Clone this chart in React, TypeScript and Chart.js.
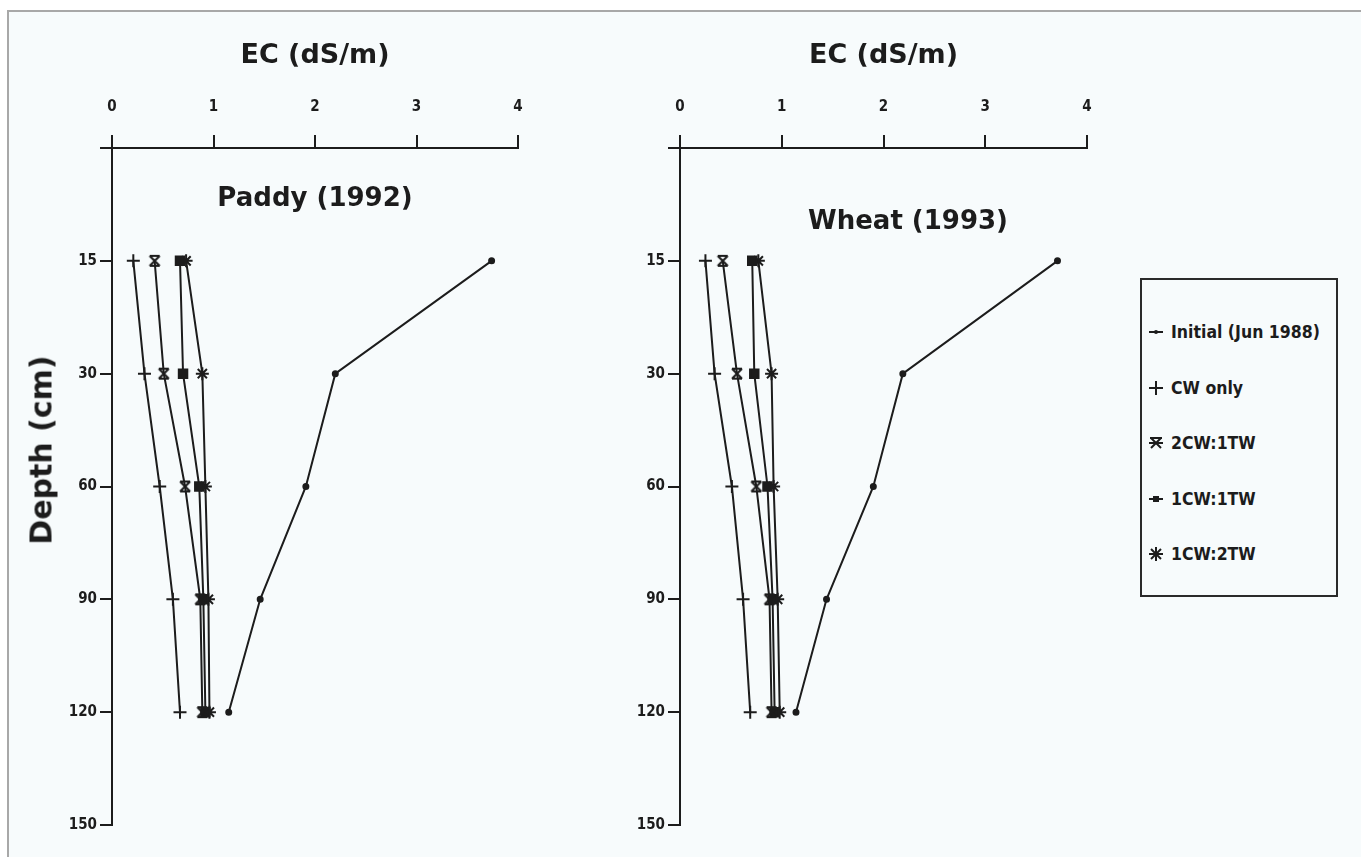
import React, { useEffect, useRef } from 'react';
import { Chart, registerables } from 'chart.js';

Chart.register(...registerables);

// ---------- data ----------
const depthTicks = ['', '15', '30', '60', '90', '120', '150'];
const depths = ['15', '30', '60', '90', '120'];
const ecTicks = [0, 1, 2, 3, 4];
const seriesNames = ['Initial (Jun 1988)', 'CW only', '2CW:1TW', '1CW:1TW', '1CW:2TW'];

const paddyInitial = [3.74, 2.2, 1.91, 1.46, 1.15];
const paddyCwOnly = [0.21, 0.32, 0.47, 0.6, 0.67];
const paddy2cw1tw = [0.42, 0.51, 0.72, 0.87, 0.89];
const paddy1cw1tw = [0.67, 0.7, 0.86, 0.9, 0.92];
const paddy1cw2tw = [0.73, 0.89, 0.92, 0.95, 0.96];

const wheatInitial = [3.71, 2.19, 1.9, 1.44, 1.14];
const wheatCwOnly = [0.25, 0.34, 0.51, 0.62, 0.69];
const wheat2cw1tw = [0.42, 0.56, 0.75, 0.88, 0.9];
const wheat1cw1tw = [0.71, 0.73, 0.86, 0.91, 0.93];
const wheat1cw2tw = [0.77, 0.9, 0.92, 0.96, 0.98];

const INK = '#1c1c1c';
const NARROW = "'Liberation Sans Narrow', 'DejaVu Sans Condensed', 'Arial Narrow', sans-serif";
const WIDE = "'DejaVu Sans', Arial, sans-serif";

function hourglassMarker(): HTMLCanvasElement {
  const c = document.createElement('canvas');
  c.width = 14;
  c.height = 14;
  const ctx = c.getContext('2d')!;
  ctx.strokeStyle = INK;
  ctx.lineWidth = 2.2;
  ctx.beginPath();
  ctx.moveTo(2, 2); ctx.lineTo(12, 12);
  ctx.moveTo(12, 2); ctx.lineTo(2, 12);
  ctx.moveTo(2, 2); ctx.lineTo(12, 2);
  ctx.moveTo(2, 12); ctx.lineTo(12, 12);
  ctx.stroke();
  return c;
}

function makeChart(canvas: HTMLCanvasElement, series: number[][], yWidth: number, rightPad: number) {
  const hg = hourglassMarker();
  const styles: any[] = [
    { pointStyle: 'circle', pointRadius: 2.5 },
    { pointStyle: 'cross', pointRadius: 6.5 },
    { pointStyle: hg, pointRadius: 7 },
    { pointStyle: 'rect', pointRadius: 6 },
    { pointStyle: 'star', pointRadius: 6.5 },
  ];
  const datasets = series.map((vals, si) => ({
    label: seriesNames[si],
    data: depths.map((d, i) => ({ x: vals[i], y: depthTicks.indexOf(d) })),
    showLine: true,
    borderColor: INK,
    backgroundColor: INK,
    borderWidth: 2,
    pointBorderColor: INK,
    pointBackgroundColor: INK,
    pointBorderWidth: 2,
    ...styles[si],
  }));
  const axisFont = { family: NARROW, size: 15, weight: 'bold' as const };
  return new Chart(canvas, {
    type: 'scatter',
    data: { datasets },
    options: {
      animation: false,
      responsive: false,
      events: [],
      layout: { padding: { left: 0, top: 0, right: rightPad, bottom: 32 } },
      plugins: { legend: { display: false }, tooltip: { enabled: false } },
      scales: {
        x: {
          type: 'linear',
          position: 'top',
          min: 0,
          max: 4,
          ticks: {
            stepSize: 1,
            padding: 19,
            color: INK,
            font: axisFont,
            callback: (v: any) => (ecTicks.includes(v) ? String(v) : ''),
          },
          grid: { drawOnChartArea: false, drawTicks: true, tickLength: 13, color: INK, lineWidth: 2 },
          border: { display: true, color: INK, width: 2 },
          title: {
            display: true,
            text: 'EC (dS/m)',
            color: INK,
            font: { family: WIDE, size: 27, weight: 'bold' },
            padding: { top: 40, bottom: 0 },
          },
          afterFit: (s: any) => {
            s.height = 148;
          },
        },
        y: {
          type: 'linear',
          min: 0,
          max: 6,
          reverse: true,
          ticks: {
            stepSize: 1,
            autoSkip: false,
            padding: 3,
            color: INK,
            font: axisFont,
            callback: (v: any) => depthTicks[v] ?? '',
          },
          grid: { drawOnChartArea: false, drawTicks: true, tickLength: 12, color: INK, lineWidth: 2 },
          border: { display: true, color: INK, width: 2 },
          afterFit: (s: any) => {
            s.width = yWidth;
          },
        },
      },
    },
  } as any);
}

function LegendSymbol({ kind }: { kind: number }) {
  const s = { stroke: INK, strokeWidth: 2, fill: 'none' };
  return (
    <svg width={22} height={16} style={{ display: 'block' }}>
      {kind === 0 && (
        <g>
          <line x1={3} y1={8} x2={17} y2={8} {...s} />
          <circle cx={10} cy={8} r={2} fill={INK} />
        </g>
      )}
      {kind === 1 && (
        <g>
          <line x1={3} y1={8} x2={17} y2={8} {...s} />
          <line x1={10} y1={1} x2={10} y2={15} {...s} />
        </g>
      )}
      {kind === 2 && (
        <g>
          <line x1={5} y1={3} x2={15} y2={13} {...s} />
          <line x1={15} y1={3} x2={5} y2={13} {...s} />
          <line x1={4} y1={3} x2={16} y2={3} {...s} />
          <line x1={3} y1={8} x2={17} y2={8} {...s} />
        </g>
      )}
      {kind === 3 && (
        <g>
          <line x1={3} y1={8} x2={17} y2={8} {...s} />
          <rect x={7} y={5} width={6} height={6} fill={INK} />
        </g>
      )}
      {kind === 4 && (
        <g>
          <line x1={5} y1={3} x2={15} y2={13} {...s} />
          <line x1={15} y1={3} x2={5} y2={13} {...s} />
          <line x1={3} y1={8} x2={17} y2={8} {...s} />
          <line x1={10} y1={1} x2={10} y2={15} {...s} />
        </g>
      )}
    </svg>
  );
}

export default function App() {
  const leftRef = useRef<HTMLCanvasElement>(null);
  const rightRef = useRef<HTMLCanvasElement>(null);

  useEffect(() => {
    const a = makeChart(
      leftRef.current!,
      [paddyInitial, paddyCwOnly, paddy2cw1tw, paddy1cw1tw, paddy1cw2tw],
      112,
      42
    );
    const b = makeChart(
      rightRef.current!,
      [wheatInitial, wheatCwOnly, wheat2cw1tw, wheat1cw1tw, wheat1cw2tw],
      120,
      43
    );
    return () => {
      a.destroy();
      b.destroy();
    };
  }, []);

  const titleStyle: React.CSSProperties = {
    position: 'absolute',
    fontFamily: WIDE,
    fontWeight: 'bold',
    fontSize: 26,
    color: INK,
    whiteSpace: 'nowrap',
    transform: 'translate(-50%, -50%)',
  };

  return (
    <div style={{ position: 'absolute', left: 0, top: 0, width: 1361, height: 857, overflow: 'hidden', background: '#ffffff' }}>
      <div
        style={{
          position: 'absolute',
          left: 7,
          top: 10,
          width: 1354,
          height: 847,
          boxSizing: 'border-box',
          borderLeft: '2px solid #a8a8a8',
          borderTop: '2px solid #a8a8a8',
          background: '#f7fbfc',
        }}
      />
      <canvas ref={leftRef} width={560} height={857} style={{ position: 'absolute', left: 0, top: 0 }} />
      <canvas ref={rightRef} width={570} height={857} style={{ position: 'absolute', left: 560, top: 0 }} />
      <div style={{ ...titleStyle, left: 315, top: 197 }}>Paddy (1992)</div>
      <div style={{ ...titleStyle, left: 908, top: 220 }}>Wheat (1993)</div>
      <div
        style={{
          position: 'absolute',
          left: 41,
          top: 450,
          fontFamily: WIDE,
          fontWeight: 'bold',
          fontSize: 30,
          color: INK,
          whiteSpace: 'nowrap',
          transform: 'translate(-50%, -50%) rotate(-90deg)',
        }}
      >
        Depth (cm)
      </div>
      <div
        style={{
          position: 'absolute',
          left: 1140,
          top: 278,
          width: 198,
          height: 319,
          boxSizing: 'border-box',
          border: '2px solid #2a2a2a',
        }}
      >
        {seriesNames.map((n, i) => (
          <div
            key={n}
            style={{
              position: 'absolute',
              left: 4,
              top: 52 + i * 55.5 - 12,
              height: 24,
              display: 'flex',
              alignItems: 'center',
              gap: 3,
              fontFamily: NARROW,
              fontWeight: 'bold',
              fontSize: 17.5,
              color: INK,
              whiteSpace: 'nowrap',
            }}
          >
            <LegendSymbol kind={i} />
            <span>{n}</span>
          </div>
        ))}
      </div>
    </div>
  );
}
